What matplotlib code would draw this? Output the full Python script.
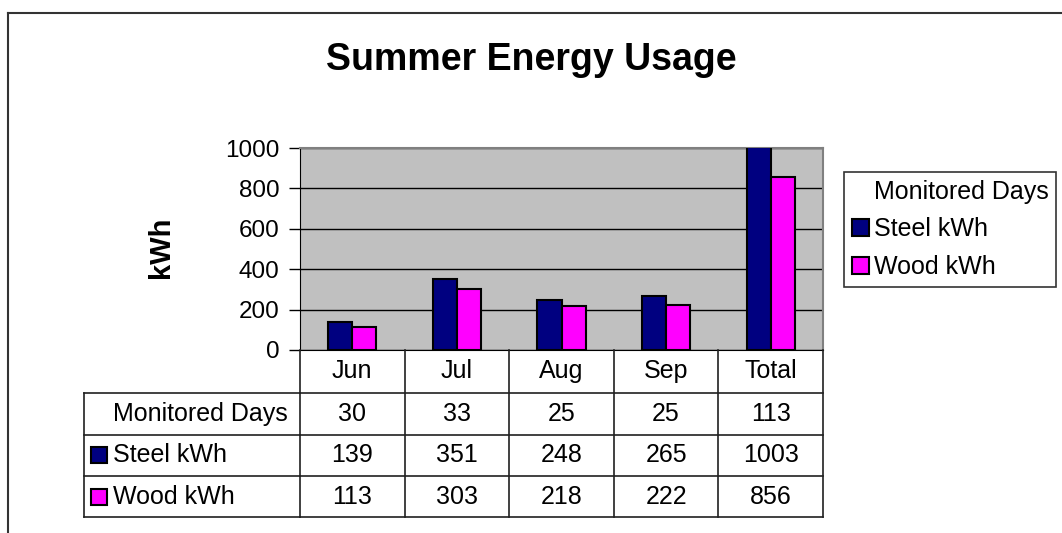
import matplotlib.pyplot as plt
from matplotlib.lines import Line2D
from matplotlib.patches import Patch, Rectangle
from matplotlib.transforms import blended_transform_factory

plt.rcParams['font.family'] = ['Liberation Sans', 'DejaVu Sans']

months = ["Jun", "Jul", "Aug", "Sep", "Total"]
monitored_days = [30, 33, 25, 25, 113]
steel_kwh = [139, 351, 248, 265, 1003]
wood_kwh = [113, 303, 218, 222, 856]

W, H = 1062, 533
fig = plt.figure(figsize=(W / 100, H / 100), dpi=100)

def fx(px):
    return px / W

def fy(py):
    return 1 - py / H

# plot area
ax = fig.add_axes([fx(300), fy(350), fx(823) - fx(300), fy(148) - fy(350)])
ax.set_facecolor("#C0C0C0")
x = range(len(months))
bw = 0.23
ax.bar([i - bw / 2 for i in x], steel_kwh, bw, color="#000080", edgecolor="black", linewidth=1.5, zorder=3)
ax.bar([i + bw / 2 for i in x], wood_kwh, bw, color="#FF00FF", edgecolor="black", linewidth=1.5, zorder=3)
ax.set_xlim(-0.5, len(months) - 0.5)
ax.set_ylim(0, 1000)
ax.set_yticks([0, 200, 400, 600, 800, 1000])
ax.set_xticks([])
ax.tick_params(axis="y", length=8, width=1, pad=7, labelsize=17.5)
ax.grid(axis="y", color="black", linewidth=1, zorder=1)
for s in ["top", "right"]:
    ax.spines[s].set_color("#808080")
    ax.spines[s].set_linewidth(1.5)
ax.spines["left"].set_color("black")
ax.spines["bottom"].set_color("black")

fig.text(fx(531), fy(60), "Summer Energy Usage", ha="center", va="center", fontsize=27, weight="bold")
fig.text(fx(161), fy(247), "kWh", rotation=90, ha="center", va="center", fontsize=21, weight="bold")

# data table below the axis
tr = blended_transform_factory(ax.transData, fig.transFigure)
ftr = fig.transFigure
row_y = [350, 393, 435, 476, 517]
lc = "#202020"
lw = 1.2
for i in range(len(months) + 1):
    fig.add_artist(Line2D([i - 0.5, i - 0.5], [fy(350), fy(517)], transform=tr, color=lc, lw=lw))
fig.add_artist(Line2D([fx(84), fx(84)], [fy(393), fy(517)], transform=ftr, color=lc, lw=lw))
for yy in row_y[1:]:
    fig.add_artist(Line2D([fx(84), fx(300)], [fy(yy), fy(yy)], transform=ftr, color=lc, lw=lw))
    fig.add_artist(Line2D([-0.5, len(months) - 0.5], [fy(yy), fy(yy)], transform=tr, color=lc, lw=lw))

fs = 18
for i, m in enumerate(months):
    fig.text(i, fy(371), m, transform=tr, ha="center", va="center", fontsize=fs)
    fig.text(i, fy(414), str(monitored_days[i]), transform=tr, ha="center", va="center", fontsize=fs)
    fig.text(i, fy(455), str(steel_kwh[i]), transform=tr, ha="center", va="center", fontsize=fs)
    fig.text(i, fy(497), str(wood_kwh[i]), transform=tr, ha="center", va="center", fontsize=fs)

fig.text(fx(113), fy(414), "Monitored Days", ha="left", va="center", fontsize=fs)
fig.text(fx(113), fy(455), "Steel kWh", ha="left", va="center", fontsize=fs)
fig.text(fx(113), fy(497), "Wood kWh", ha="left", va="center", fontsize=fs)
for yc, col in [(455, "#000080"), (497, "#FF00FF")]:
    fig.add_artist(Rectangle((fx(91), fy(yc + 8)), fx(16), fy(0) - fy(16), transform=ftr,
                             facecolor=col, edgecolor="black", lw=1.5))

# legend
handles = [Patch(facecolor="none", edgecolor="none"),
           Patch(facecolor="#000080", edgecolor="black", lw=1.5),
           Patch(facecolor="#FF00FF", edgecolor="black", lw=1.5)]
leg = fig.legend(handles, ["Monitored Days", "Steel kWh", "Wood kWh"], loc="upper left",
                 bbox_to_anchor=(fx(844), fy(172)), fontsize=fs, frameon=True, fancybox=False,
                 edgecolor="black", handlelength=0.7, handleheight=0.7, handletextpad=0.2,
                 labelspacing=0.55, borderpad=0.3, borderaxespad=0)
leg.get_frame().set_linewidth(1.2)

# outer chart border
fig.add_artist(Line2D([fx(8), fx(1062)], [fy(13), fy(13)], transform=ftr, color="#333333", lw=1.5))
fig.add_artist(Line2D([fx(8), fx(8)], [fy(13), fy(533)], transform=ftr, color="#333333", lw=1.5))

fig.savefig("out.png", dpi=100)
